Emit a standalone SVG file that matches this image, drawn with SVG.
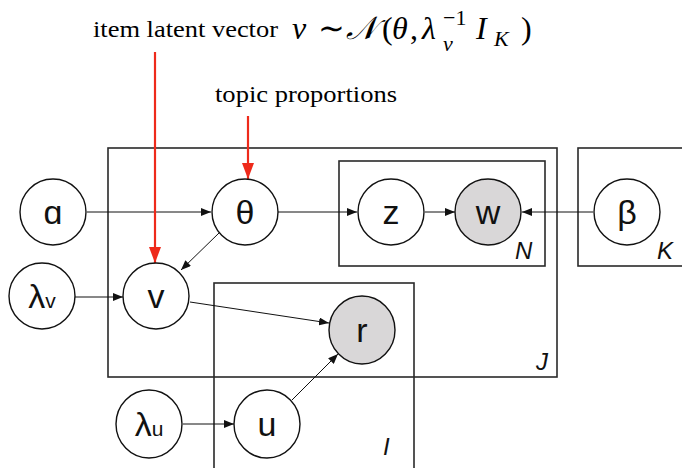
<svg xmlns="http://www.w3.org/2000/svg" width="682" height="468" viewBox="0 0 682 468">
<style>
.plate{fill:none;stroke:#2a2a2a;stroke-width:1.6}
.node{fill:#fff;stroke:#111;stroke-width:1.4}
.obs{fill:#d9d7d8;stroke:#111;stroke-width:1.4}
.lbl{font-family:"Liberation Sans",Arial,sans-serif;font-size:34px;fill:#111;text-anchor:middle}
.sub{font-size:21px}
.pl{font-family:"Liberation Sans",Arial,sans-serif;font-size:24px;font-style:italic;fill:#111}
.edge{stroke:#111;stroke-width:1;fill:none;marker-end:url(#ah)}
.red{stroke:#ee2a1b;stroke-width:2.2;fill:none;marker-end:url(#rh)}
.ann{font-family:"Liberation Serif","Times New Roman",serif;font-size:24px;fill:#000}
.m{font-family:"Liberation Serif","Times New Roman",serif;font-size:32px;font-style:italic;fill:#000}
.mr{font-family:"Liberation Serif","Times New Roman",serif;font-size:32px;fill:#000}
.ms{font-family:"Liberation Serif","Times New Roman",serif;font-size:22px;fill:#000}
</style>
<defs>
<marker id="ah" markerWidth="10" markerHeight="8" refX="10" refY="4" orient="auto" markerUnits="userSpaceOnUse">
<path d="M0,0 L10,4 L0,8 Z" fill="#111"/>
</marker>
<marker id="rh" markerWidth="16" markerHeight="12" refX="16" refY="6" orient="auto" markerUnits="userSpaceOnUse" viewBox="0 0 16 12">
<path d="M0,0 L16,6 L0,12 Z" fill="#ee2a1b"/>
</marker>
</defs>

<g id="plates">
<rect id="plate-J" class="plate" x="108" y="148" width="449" height="229"/>
<rect id="plate-N" class="plate" x="339" y="161" width="206" height="105"/>
<rect id="plate-K" class="plate" x="578" y="148" width="110" height="118"/>
<rect id="plate-I" class="plate" x="214" y="283" width="200" height="190"/>
<text class="pl" x="515" y="259">N</text>
<text class="pl" x="657" y="259">K</text>
<text class="pl" x="536" y="370">J</text>
<text class="pl" x="383" y="455">I</text>
</g>

<g id="connectors">
<line class="edge" x1="87" y1="212" x2="211" y2="212"/>
<line class="edge" x1="278" y1="212" x2="357" y2="212"/>
<line class="edge" x1="425" y1="212" x2="455" y2="212"/>
<line class="edge" x1="593" y1="212" x2="522" y2="212"/>
<line class="edge" x1="219" y1="233" x2="181" y2="270"/>
<line class="edge" x1="75" y1="297" x2="123" y2="297"/>
<line class="edge" x1="190" y1="302" x2="329" y2="323"/>
<line class="edge" x1="292" y1="400" x2="338" y2="354"/>
<line class="edge" x1="183" y1="424" x2="234" y2="424"/>
<line class="red" x1="155" y1="52" x2="155" y2="263"/>
<line class="red" x1="248" y1="116" x2="248" y2="179"/>
</g>

<g id="node-alpha"><ellipse class="node" cx="53" cy="212" rx="33" ry="33"/><text class="lbl" x="53" y="224">ɑ</text></g>
<g id="node-theta"><ellipse class="node" cx="245" cy="212" rx="33" ry="33"/><text class="lbl" x="245" y="224">θ</text></g>
<g id="node-z"><ellipse class="node" cx="391" cy="212" rx="33" ry="33"/><text class="lbl" x="391" y="224">z</text></g>
<g id="node-w"><ellipse class="obs" cx="488" cy="212" rx="33" ry="33"/><text class="lbl" x="488" y="224">w</text></g>
<g id="node-beta"><ellipse class="node" cx="627" cy="212" rx="33" ry="33"/><text class="lbl" x="627" y="224">β</text></g>
<g id="node-lambda-v"><ellipse class="node" cx="42" cy="296" rx="33" ry="33"/><text class="lbl" x="42" y="308">λ<tspan class="sub">v</tspan></text></g>
<g id="node-v"><ellipse class="node" cx="156" cy="296" rx="33" ry="33"/><text class="lbl" x="156" y="308">v</text></g>
<g id="node-r"><ellipse class="obs" cx="362" cy="330" rx="33" ry="34"/><text class="lbl" x="362" y="342">r</text></g>
<g id="node-lambda-u"><ellipse class="node" cx="149" cy="424" rx="33" ry="34"/><text class="lbl" x="149" y="436">λ<tspan class="sub">u</tspan></text></g>
<g id="node-u"><ellipse class="node" cx="267" cy="424" rx="33" ry="34"/><text class="lbl" x="267" y="436">u</text></g>

<g id="annotations">
<text class="ann" x="93" y="37" textLength="185" lengthAdjust="spacingAndGlyphs">item latent vector</text>
<text class="m" x="292" y="39">v</text>
<text class="mr" x="318" y="39">∼</text>
<text class="m" x="346" y="39">𝒩</text>
<text class="mr" x="382" y="39">(</text>
<text class="m" x="392" y="39">θ</text>
<text class="mr" x="410" y="39">,</text>
<text class="m" x="422" y="39">λ</text>
<text class="ms" x="443" y="25">−1</text>
<text class="ms" x="443" y="51" font-style="italic">v</text>
<text class="m" x="476" y="39">I</text>
<text class="ms" x="494" y="46" font-style="italic">K</text>
<text class="mr" x="521" y="39">)</text>
<text class="ann" x="215" y="102" textLength="182" lengthAdjust="spacingAndGlyphs">topic proportions</text>
</g>
</svg>
